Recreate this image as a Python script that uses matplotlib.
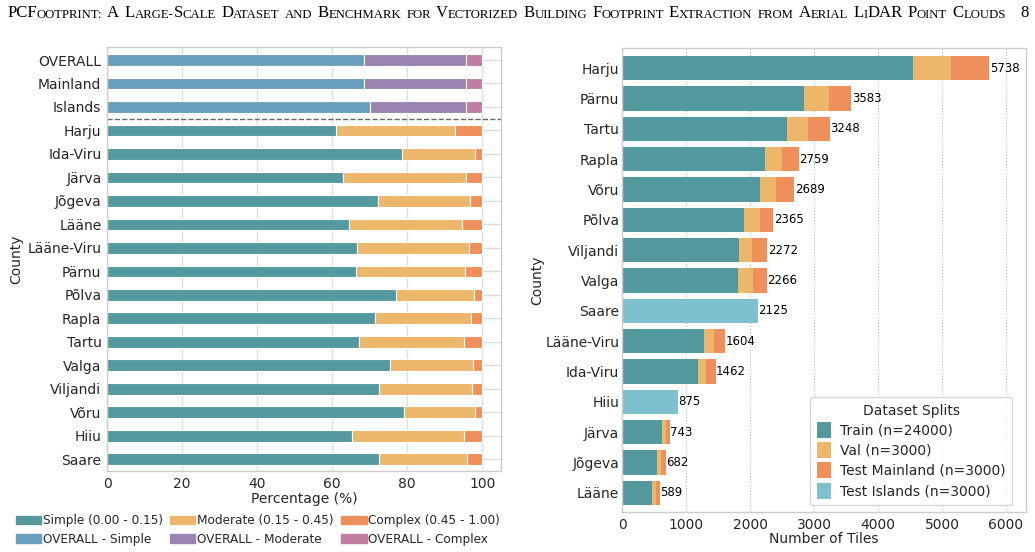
import numpy as np
import matplotlib
matplotlib.use('Agg')
import matplotlib.pyplot as plt
from matplotlib.patches import Patch

# ---- left panel: complexity distribution per county (percent) ----
left_labels = ['OVERALL', 'Mainland', 'Islands', 'Harju', 'Ida-Viru', 'Järva', 'Jõgeva',
               'Lääne', 'Lääne-Viru', 'Pärnu', 'Põlva', 'Rapla', 'Tartu', 'Valga',
               'Viljandi', 'Võru', 'Hiiu', 'Saare']
simple_pct = [68.6, 68.5, 70.1, 61.1, 78.7, 62.8, 72.1, 64.4, 66.6, 66.4, 76.9, 71.5,
              67.2, 75.3, 72.5, 79.2, 65.3, 72.4]
moderate_pct = [27.0, 27.1, 25.6, 31.7, 19.3, 32.8, 24.7, 30.1, 29.9, 29.0, 20.8, 25.6,
                27.8, 22.3, 24.7, 18.9, 29.7, 23.6]
complex_pct = [4.4, 4.4, 4.3, 7.2, 2.0, 4.4, 3.2, 5.5, 3.5, 4.6, 2.3, 2.9,
               5.0, 2.4, 2.8, 1.9, 5.0, 4.0]
n_overall = 3

# ---- right panel: tiles per county and split ----
counties = ['Harju', 'Pärnu', 'Tartu', 'Rapla', 'Võru', 'Põlva', 'Viljandi', 'Valga',
            'Saare', 'Lääne-Viru', 'Ida-Viru', 'Hiiu', 'Järva', 'Jõgeva', 'Lääne']
train = [4548, 2843, 2577, 2232, 2154, 1904, 1826, 1810, 0, 1278, 1184, 0, 621, 542, 464]
val = [595, 391, 328, 266, 251, 250, 203, 235, 0, 156, 125, 0, 62, 63, 63]
test_mainland = [595, 349, 343, 261, 284, 211, 243, 221, 0, 170, 153, 0, 60, 77, 62]
test_islands = [0, 0, 0, 0, 0, 0, 0, 0, 2125, 0, 0, 875, 0, 0, 0]

C_SIMPLE = '#54999e'
C_MOD = '#edb76b'
C_COMPLEX = '#ee8f5c'
C_O_SIMPLE = '#6a9ebd'
C_O_MOD = '#9a84b1'
C_O_COMPLEX = '#c07ea0'
C_ISLANDS = '#7ec0ce'
TXT = '#262626'
GRID = '#dddddd'
SPINE = '#cccccc'

plt.rcParams['font.family'] = 'DejaVu Sans'
plt.rcParams['text.color'] = TXT
plt.rcParams['axes.labelcolor'] = TXT
plt.rcParams['xtick.color'] = TXT
plt.rcParams['ytick.color'] = TXT

fig = plt.figure(figsize=(10.35, 5.52), dpi=100)


def style_axes(ax):
    for s in ax.spines.values():
        s.set_color(SPINE)
        s.set_linewidth(1.0)
    ax.tick_params(length=0, labelsize=10, pad=4)
    ax.set_axisbelow(True)


# left
ax1 = fig.add_axes([0.1034, 0.1467, 0.3807, 0.768])
style_axes(ax1)
y = np.arange(len(left_labels))
s = np.array(simple_pct)
m = np.array(moderate_pct)
c = np.array(complex_pct)
col_s = [C_O_SIMPLE if i < n_overall else C_SIMPLE for i in y]
col_m = [C_O_MOD if i < n_overall else C_MOD for i in y]
col_c = [C_O_COMPLEX if i < n_overall else C_COMPLEX for i in y]
kw = dict(height=0.5, edgecolor='white', linewidth=0.8)
ax1.barh(y, s, color=col_s, **kw)
ax1.barh(y, m, left=s, color=col_m, **kw)
ax1.barh(y, c, left=s + m, color=col_c, **kw)
ax1.axhline(n_overall - 0.5, color='#666666', linestyle='--', linewidth=1.0)
ax1.set_yticks(y)
ax1.set_yticklabels(left_labels)
ax1.set_ylim(len(left_labels) - 0.5, -0.55)
ax1.set_xlim(0, 105)
ax1.set_xticks([0, 20, 40, 60, 80, 100])
ax1.grid(True, color=GRID, linewidth=1.0)
ax1.set_xlabel('Percentage (%)', fontsize=10, labelpad=1)
ax1.set_ylabel('County', fontsize=10, labelpad=3)

handles = [Patch(color=C_SIMPLE, label='Simple (0.00 - 0.15)'),
           Patch(color=C_O_SIMPLE, label='OVERALL - Simple'),
           Patch(color=C_MOD, label='Moderate (0.15 - 0.45)'),
           Patch(color=C_O_MOD, label='OVERALL - Moderate'),
           Patch(color=C_COMPLEX, label='Complex (0.45 - 1.00)'),
           Patch(color=C_O_COMPLEX, label='OVERALL - Complex')]
fig.legend(handles=handles, loc='upper left', bbox_to_anchor=(0.015, 0.068), ncol=3,
           frameon=False, fontsize=8.7, handlelength=2.1, handletextpad=0.15,
           columnspacing=0.6, labelspacing=0.45, borderaxespad=0, borderpad=0)

# right
ax2 = fig.add_axes([0.601, 0.0725, 0.3903, 0.8406])
style_axes(ax2)
yr = np.arange(len(counties))
tr = np.array(train)
va = np.array(val)
tm = np.array(test_mainland)
ti = np.array(test_islands)
ax2.barh(yr, tr, height=0.8, color=C_SIMPLE, label='Train (n=24000)')
ax2.barh(yr, va, left=tr, height=0.8, color=C_MOD, label='Val (n=3000)')
ax2.barh(yr, tm, left=tr + va, height=0.8, color=C_COMPLEX, label='Test Mainland (n=3000)')
ax2.barh(yr, ti, left=tr + va + tm, height=0.8, color=C_ISLANDS, label='Test Islands (n=3000)')
totals = tr + va + tm + ti
for yi, tot in zip(yr, totals):
    ax2.text(tot + 8, yi, f'{tot}', va='center', ha='left', fontsize=8.5, color='black')
ax2.set_yticks(yr)
ax2.set_yticklabels(counties)
ax2.tick_params(axis='y', pad=2)
ax2.set_ylim(len(counties) - 0.37, -0.67)
ax2.set_xlim(0, totals.max() * 1.1)
ax2.set_xticks(np.arange(0, 7000, 1000))
ax2.grid(True, axis='x', color='#bbbbbb', linestyle=':', linewidth=0.8)
ax2.grid(False, axis='y')
ax2.set_xlabel('Number of Tiles', fontsize=10, labelpad=0)
ax2.set_ylabel('County', fontsize=10, labelpad=1)
leg = ax2.legend(title='Dataset Splits', loc='lower right', fontsize=10, title_fontsize=10,
                 frameon=True, fancybox=True, borderpad=0.5, handlelength=1.0,
                 handleheight=1.4, labelspacing=0.3, handletextpad=0.6,
                 bbox_to_anchor=(0.983, -0.001))
leg.get_frame().set_edgecolor(SPINE)

# page header in fake small caps
header_words = 'PCFootprint: A Large-Scale Dataset and Benchmark for Vectorized Building ' \
               'Footprint Extraction from Aerial LiDAR Point Clouds'
HS = 12.1
SMALL = 0.76
prev = None
for word in header_words.split(' '):
    runs = []
    for ch in word:
        if not ch.isalpha() and runs:
            runs[-1][0] += ch
            continue
        low = ch.islower()
        if runs and runs[-1][1] == low:
            runs[-1][0] += ch
        else:
            runs.append([ch, low])
    for ri, (txt, low) in enumerate(runs):
        size = HS * SMALL if low else HS
        kwt = dict(fontsize=size, family='Liberation Serif', color='black',
                   ha='left', va='bottom')
        if prev is None:
            prev = fig.text(0.007, 0.962, txt.upper(), **kwt)
        else:
            off = HS * 0.3 if ri == 0 else 0
            prev = plt.annotate(txt.upper(), xy=(1, 0), xycoords=prev, xytext=(off, 0),
                                textcoords='offset points', annotation_clip=False, **kwt)
fig.text(0.994, 0.962, '8', fontsize=HS, family='Liberation Serif', color='black',
         ha='right', va='bottom')

fig.savefig('out.png', dpi=100)
